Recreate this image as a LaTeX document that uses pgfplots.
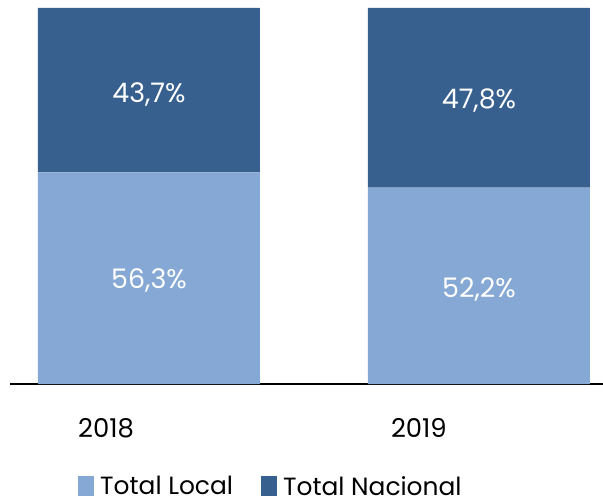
\documentclass[border=0pt]{standalone}
\usepackage{fontspec}
\setmainfont{Poppins}
\usepackage{pgfplots}
\pgfplotsset{compat=1.18}
\definecolor{local}{HTML}{86A8D4}
\definecolor{nacional}{HTML}{37608F}
\begin{document}
\begin{tikzpicture}
\pgfplotsset{frame/.style={
  at={(0,0)}, anchor=south west,
  scale only axis, width=593bp, height=376bp,
  xmin=-0.4212, xmax=1.3758, ymin=0, ymax=100,
}}
\begin{axis}[frame,
  ybar stacked, bar width=222bp,
  axis x line*=bottom, axis y line=none,
  axis line style={black, line width=1.5bp, -},
  xtick={-0.13,0.818}, xticklabels={2018,2019},
  major tick length=0pt,
  xticklabel style={anchor=base, yshift=-53bp, font=\fontsize{26}{30}\selectfont},
  legend columns=2,
  legend style={draw=none, at={(0.44,-0.272)}, anchor=center,
    font=\fontsize{25}{29}\selectfont,
    /tikz/every even column/.append style={column sep=26bp},
    /tikz/every odd column/.append style={inner xsep=1bp}},
  legend image code/.code={\fill[#1] (0bp,-10bp) rectangle (16bp,10bp);},
]
\addplot[fill=local, draw=none] coordinates {(0,56.3) (1,52.2)};
\addplot[fill=nacional, draw=none] coordinates {(0,43.7) (1,47.8)};
\legend{\hspace{4bp}Total Local, \hspace{4bp}Total Nacional}
\end{axis}
\begin{axis}[frame, hide axis]
\addplot[draw=none, mark=none, nodes near coords, point meta=explicit symbolic,
  every node near coord/.style={anchor=center, text=white, font=\fontsize{27}{31}\selectfont}]
  coordinates {(0,27.4)[56,3\%] (0,76.9)[43,7\%] (1,25.0)[52,2\%] (1,75.3)[47,8\%]};
\end{axis}
\pgfresetboundingbox
\path[use as bounding box] (-10bp,-119bp) rectangle (593bp,384bp);
\end{tikzpicture}
\end{document}
